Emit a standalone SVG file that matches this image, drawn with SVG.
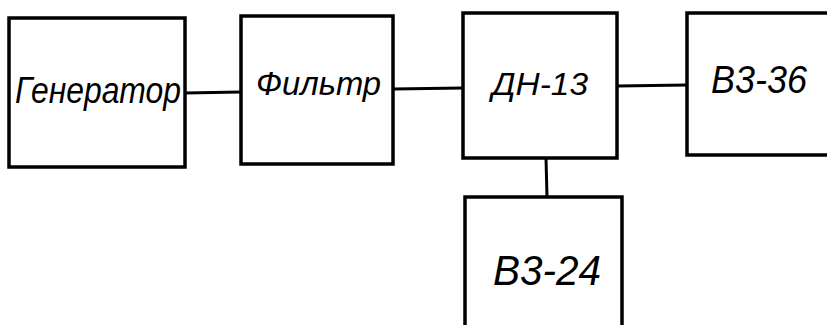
<svg xmlns="http://www.w3.org/2000/svg" width="827" height="325" viewBox="0 0 827 325">
  <style>
    .box { fill: #fff; stroke: #000; stroke-width: 3.5; stroke-linejoin: miter; }
    .wire { fill: none; stroke: #000; stroke-width: 3; }
    .lbl { font-family: "Liberation Sans", "DejaVu Sans", sans-serif; font-style: italic; fill: #000; }
  </style>
  <rect width="827" height="325" fill="#fff"/>

  <g id="connectors">
    <line class="wire" x1="185" y1="93" x2="241" y2="92"/>
    <line class="wire" x1="393" y1="89" x2="463" y2="88"/>
    <line class="wire" x1="617" y1="86" x2="688" y2="85"/>
    <line class="wire" x1="546" y1="158" x2="547" y2="197"/>
  </g>

  <g id="generator">
    <rect class="box" x="9" y="18" width="176" height="149"/>
    <text class="lbl" x="15" y="103" font-size="36" textLength="166" lengthAdjust="spacingAndGlyphs">Генератор</text>
  </g>

  <g id="filter">
    <rect class="box" x="241" y="16" width="152" height="148"/>
    <text class="lbl" x="256" y="95" font-size="34" textLength="125" lengthAdjust="spacingAndGlyphs">Фильтр</text>
  </g>

  <g id="dn13">
    <rect class="box" x="463" y="13" width="154" height="145"/>
    <text class="lbl" x="492" y="95" font-size="32" textLength="96" lengthAdjust="spacingAndGlyphs">ДН-13</text>
  </g>

  <g id="v3-36">
    <rect class="box" x="687" y="13" width="160" height="142"/>
    <text class="lbl" x="711" y="93" font-size="38" textLength="96" lengthAdjust="spacingAndGlyphs">В3-36</text>
  </g>

  <g id="v3-24">
    <rect class="box" x="465" y="197" width="157" height="150"/>
    <text class="lbl" x="493" y="285" font-size="42" textLength="108" lengthAdjust="spacingAndGlyphs">В3-24</text>
  </g>
</svg>
